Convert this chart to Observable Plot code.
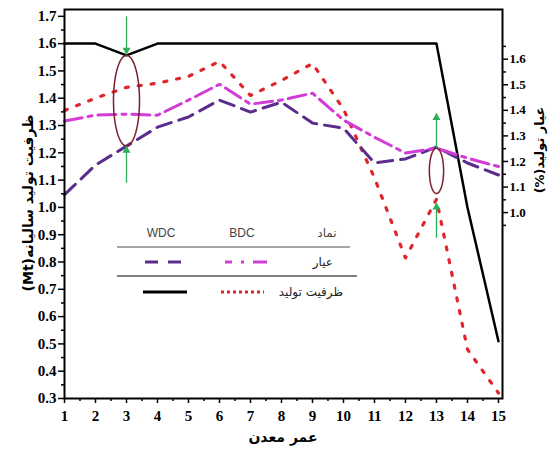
<!DOCTYPE html>
<html><head><meta charset="utf-8">
<script src="https://cdn.jsdelivr.net/npm/d3@7"></script>
<script src="https://cdn.jsdelivr.net/npm/@observablehq/plot@0.6"></script>
<style>body{margin:0;background:#fff}#chart{width:549px;height:461px}</style>
</head><body><div id="chart"></div>
<script>
// ---- data ----
const years = [1,2,3,4,5,6,7,8,9,10,11,12,13,14,15];
// production capacity (Mt) – left axis
const prodWDC = [1.6,1.6,1.557,1.6,1.6,1.6,1.6,1.6,1.6,1.6,1.6,1.6,1.6,1.0,0.51];
const prodBDC = [1.355,1.40,1.44,1.455,1.48,1.535,1.41,1.465,1.527,1.36,1.108,0.815,1.03,0.48,0.32];
// grade (%) – right axis
const gradeWDC = [1.07,1.186,1.26,1.334,1.374,1.44,1.393,1.432,1.35,1.33,1.194,1.21,1.256,1.194,1.147];
const gradeBDC = [1.358,1.381,1.385,1.381,1.44,1.502,1.424,1.44,1.467,1.362,1.295,1.233,1.252,1.213,1.18];
const leftTicks = [0.3,0.4,0.5,0.6,0.7,0.8,0.9,1.0,1.1,1.2,1.3,1.4,1.5,1.6,1.7];
const rightTicks = [1.0,1.1,1.2,1.3,1.4,1.5,1.6];
const xTicks = years;
const legendHeader = ["WDC","BDC","نماد"];
const legendRows = ["عیار","ظرفیت تولید"];
const xLabel = "عمر معدن";
const yLabelLeft = "ظرفیت تولید سالیانه(Mt)";
const yLabelRight = "عیار تولید(%)";
// annotations (data units)
const ellipses = [{id:"a",x:3,y:1.391,rx:0.42,ry:0.166},{id:"b",x:13,y:1.134,rx:0.23,ry:0.083}];
const arrows = [{x:3,y1:1.70,y2:1.56},{x:3,y1:1.09,y2:1.225},{x:13,y1:1.218,y2:1.345},{x:13,y1:0.889,y2:1.017}];

// right axis (grade) mapped onto left axis units
const rightToLeft = d3.scaleLinear([1.0,1.6],[0.981,1.543]);

const rows = years.map((x,i)=>({x, pw:prodWDC[i], pb:prodBDC[i], gw:rightToLeft(gradeWDC[i]), gb:rightToLeft(gradeBDC[i])}));
const ellPts = ellipses.flatMap(e => d3.range(0,73).map(k => {
  const t = k/72*2*Math.PI;
  return {id:e.id, x:e.x + e.rx*Math.cos(t), y:e.y + e.ry*Math.sin(t)};
}));
const xMinor = xTicks.slice(0,-1).map(d=>d+0.5);
const leftMinor = leftTicks.slice(0,-1).map(d=>d+0.05);
const rightMinor = rightTicks.map(d=>d-0.05).concat([1.65]);

const green = "#2fae5a";
const serif = "'Liberation Serif', 'Times New Roman', serif";
const plot = Plot.plot({
  width:549, height:461, marginLeft:64, marginRight:47, marginTop:9, marginBottom:63,
  x:{domain:[1,15.13], axis:null},
  y:{domain:[0.3,1.725], axis:null},
  style:{fontFamily:serif, fontSize:"15px", fontWeight:"bold", color:"#000", background:"#fff"},
  marks:[
    Plot.axisX(xTicks, {anchor:"bottom", tickSize:5, tickPadding:7, strokeWidth:1.5, label:null, fontSize:15}),
    Plot.axisX(xMinor, {anchor:"bottom", tickSize:3, strokeWidth:1.5, tickFormat:()=>"", label:null}),
    Plot.axisY(leftTicks, {anchor:"left", tickSize:6, tickPadding:2, strokeWidth:1.5, tickFormat:d=>d.toFixed(1), label:null, fontSize:15}),
    Plot.axisY(leftMinor, {anchor:"left", tickSize:3, strokeWidth:1.5, tickFormat:()=>"", label:null}),
    Plot.axisY(rightTicks.map(rightToLeft), {anchor:"right", tickSize:5, tickPadding:2, strokeWidth:1.5, tickFormat:d=>rightToLeft.invert(d).toFixed(1), label:null, fontSize:13}),
    Plot.axisY(rightMinor.map(rightToLeft), {anchor:"right", tickSize:3, strokeWidth:1.5, tickFormat:()=>"", label:null}),
    Plot.line(rows, {x:"x", y:"pw", stroke:"#000", strokeWidth:2.5}),
    Plot.line(rows, {x:"x", y:"pb", stroke:"#e0262c", strokeWidth:3.2, strokeDasharray:"3,10"}),
    Plot.line(rows, {x:"x", y:"gw", stroke:"#5a2d8c", strokeWidth:3, strokeDasharray:"15,8"}),
    Plot.line(rows, {x:"x", y:"gb", stroke:"#d23bd6", strokeWidth:3, strokeDasharray:"18,6,4,6"}),
    Plot.line(ellPts, {x:"x", y:"y", z:"id", stroke:"#7a1f2b", strokeWidth:1.5}),
    Plot.link(arrows, {x1:"x", x2:"x", y1:"y1", y2:"y2", stroke:green, strokeWidth:1.3}),
    Plot.dot(arrows.filter(d=>d.y2>d.y1), {x:"x", y:"y2", symbol:"triangle", r:3, fill:green, dy:4.5}),
    Plot.dot(arrows.filter(d=>d.y2<d.y1), {x:"x", y:"y2", symbol:"triangle", r:3, fill:green, rotate:180, dy:-4.5}),
    Plot.frame({stroke:"#000", strokeWidth:2})
  ]
});
document.getElementById("chart").appendChild(plot);

const svg = d3.select(plot);
svg.selectAll("text").style("font-family", serif).style("font-weight","bold");

// axis titles and legend table
const fa = "'DejaVu Sans', sans-serif";
svg.append("text").attr("x",283).attr("y",437).attr("text-anchor","middle").attr("dy","0.35em").attr("direction","rtl")
  .style("font-family",fa).style("font-size","14px").style("font-weight","bold").text(xLabel);
svg.append("text").attr("transform","translate(28,203) rotate(-90)").attr("text-anchor","middle").attr("dy","0.35em").attr("direction","rtl")
  .style("font-family",fa).style("font-size","14px").style("font-weight","bold").text(yLabelLeft);
svg.append("text").attr("transform","translate(539,150) rotate(-90)").attr("text-anchor","middle").attr("dy","0.35em").attr("direction","rtl")
  .style("font-family",fa).style("font-size","13px").style("font-weight","bold").text(yLabelRight);

const lg = svg.append("g").style("font-weight","normal");
const hx = [161,242,327];
legendHeader.forEach((t,i)=>lg.append("text").attr("x",hx[i]).attr("y",233).attr("dy","0.35em").attr("text-anchor","middle")
  .style("font-family", i<2 ? "'Liberation Sans Narrow','Liberation Sans',sans-serif" : fa).style("font-size","12px").style("font-weight","normal").attr("fill","#444").text(t));
lg.append("line").attr("x1",117).attr("x2",350).attr("y1",247).attr("y2",247).attr("stroke","#888").attr("stroke-width",1.5);
lg.append("line").attr("x1",117).attr("x2",357).attr("y1",276).attr("y2",276).attr("stroke","#000").attr("stroke-width",1);
const ry = [262,292];
legendRows.forEach((t,i)=>lg.append("text").attr("x", i===0?333:343).attr("y",ry[i]).attr("dy","0.35em").attr("text-anchor","start").attr("direction","rtl")
  .style("font-family",fa).style("font-size","12px").style("font-weight","normal").attr("fill","#222").text(t));
lg.append("line").attr("x1",145).attr("x2",183).attr("y1",262).attr("y2",262).attr("stroke","#5a2d8c").attr("stroke-width",3).attr("stroke-dasharray","13,10");
lg.append("line").attr("x1",225).attr("x2",267).attr("y1",262).attr("y2",262).attr("stroke","#d23bd6").attr("stroke-width",3).attr("stroke-dasharray","7,9,3,9,14");
lg.append("line").attr("x1",143).attr("x2",187).attr("y1",292).attr("y2",292).attr("stroke","#000").attr("stroke-width",3);
lg.append("line").attr("x1",221).attr("x2",264).attr("y1",292).attr("y2",292).attr("stroke","#e0262c").attr("stroke-width",3).attr("stroke-dasharray","3,3");
</script></body></html>
